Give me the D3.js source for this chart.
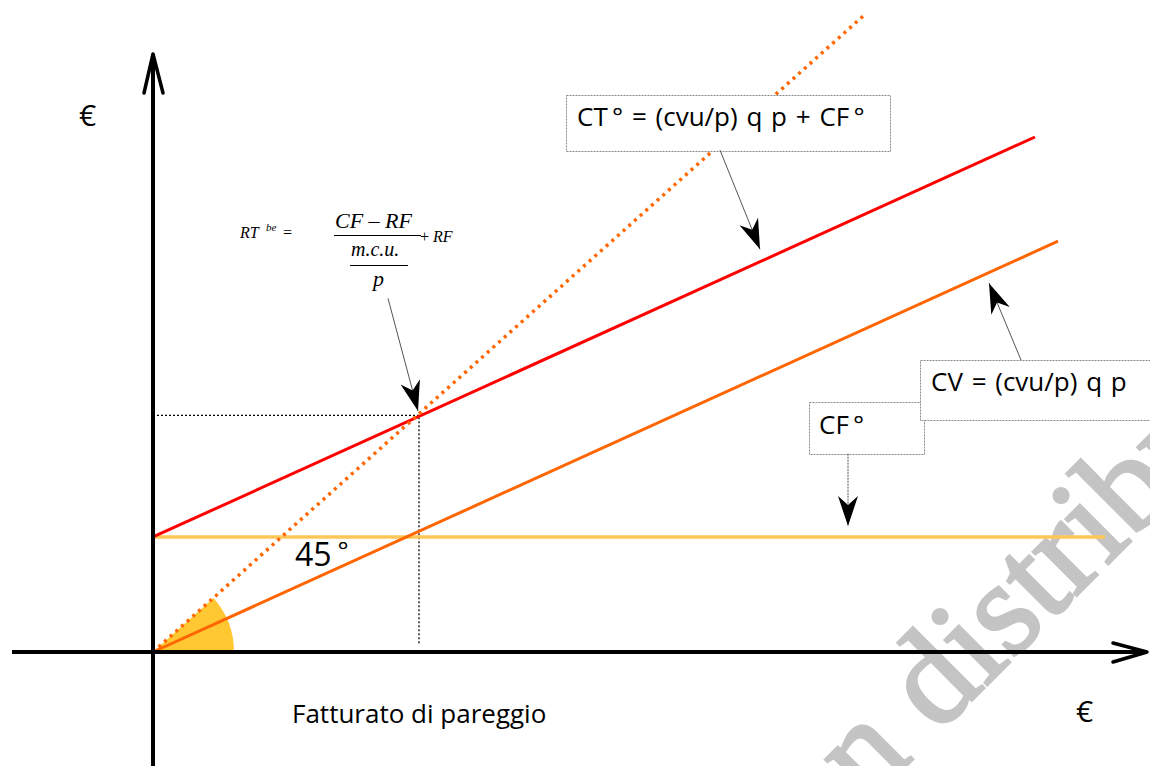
<!DOCTYPE html>
<html>
<head>
  <meta charset="utf-8">
  <title>Break-even</title>
  <script src="https://d3js.org/d3.v7.min.js"></script>
  <style>
    body { margin: 0; background: white; }
    svg { display: block; }
  </style>
</head>
<body>
<svg id="chart" width="1150" height="766"></svg>
<script>
  // values (x = revenue, y = euro, same units so 45 deg = y=x)
  const diagLine = [[0, 0], [712, 714]];          // revenue line, 45 deg
  const cfLine = [[0, 128.8], [952, 128.8]];      // fixed costs
  const cvLine = [[0, 0], [905, 460]];            // variable costs
  const ctLine = [[0, 128.8], [882, 576.7]];      // total costs
  const breakEven = [266, 265];

  const boxLabels = ["CT\u2009\u00B0 = (cvu/p) q p + CF\u2009\u00B0", "CV = (cvu/p) q p", "CF\u2009\u00B0"];
  const axisLabels = ["\u20AC", "\u20AC", "Fatturato di pareggio"];

  // annotation arrows, data units: [from, to]
  const arrows = [
    [[567, 562], [607, 451]],
    [[868, 327], [836, 413]],
    [[695, 222], [695, 141]],
    [[235, 396], [265, 270]]
  ];

  const svg = d3.select("#chart");

  const x = d3.scaleLinear().domain([0, 1000]).range([153, 1153]);
  const y = d3.scaleLinear().domain([0, 1000]).range([652, 652 - 893]);

  const line = d3.line().x(d => x(d[0])).y(d => y(d[1]));

  // watermark
  svg.append("text")
      .attr("transform", "translate(772,900) rotate(-45)")
      .attr("font-family", "Liberation Serif")
      .attr("font-size", 134)
      .attr("fill", "#c4c4c4")
      .attr("stroke", "#c4c4c4")
      .attr("stroke-width", 3)
      .text("non distribuire");

  // 45 deg wedge
  const wedgeAngle = Math.atan2(y(0) - y(100), x(100) - x(0));
  svg.append("path")
      .attr("transform", `translate(${x(0)},${y(0)})`)
      .attr("d", d3.arc()({innerRadius: 0, outerRadius: 81, startAngle: Math.PI / 2 - wedgeAngle, endAngle: Math.PI / 2}))
      .attr("fill", "#ffc832");

  // dotted guides to break-even point
  svg.append("path")
      .attr("d", line([[0, breakEven[1]], breakEven, [breakEven[0], 8]]))
      .attr("fill", "none")
      .attr("stroke", "#000")
      .attr("stroke-width", 1.3)
      .attr("stroke-dasharray", "2 2");

  // cost / revenue lines
  svg.append("path").attr("d", line(cfLine))
      .attr("stroke", "#ffc65a").attr("stroke-width", 3.5).attr("fill", "none");
  svg.append("path").attr("d", line(cvLine))
      .attr("stroke", "#ff6600").attr("stroke-width", 3).attr("fill", "none");
  svg.append("path").attr("d", line(ctLine))
      .attr("stroke", "#ff0000").attr("stroke-width", 3).attr("fill", "none");
  svg.append("path").attr("d", line(diagLine))
      .attr("stroke", "#ff6600").attr("stroke-width", 3.5).attr("fill", "none")
      .attr("stroke-dasharray", "3 4.6");

  // axes
  svg.append("line")
      .attr("x1", x(-141)).attr("y1", y(0)).attr("x2", 1147).attr("y2", y(0))
      .attr("stroke", "#000").attr("stroke-width", 4);
  svg.append("path")
      .attr("d", `M1113,643 L1147,${y(0)} L1113,662`)
      .attr("fill", "none").attr("stroke", "#000").attr("stroke-width", 3.5)
      .attr("stroke-linecap", "round").attr("stroke-linejoin", "round");
  svg.append("line")
      .attr("x1", x(0)).attr("y1", 766).attr("x2", x(0)).attr("y2", 54)
      .attr("stroke", "#000").attr("stroke-width", 4);
  svg.append("path")
      .attr("d", `M144,93 L${x(0)},54 L163,93`)
      .attr("fill", "none").attr("stroke", "#000").attr("stroke-width", 3.5)
      .attr("stroke-linecap", "round").attr("stroke-linejoin", "round");

  // label boxes
  const boxes = [
    {x: 566, y: 95, w: 324, h: 56, tx: 577, ty: 126, t: boxLabels[0]},
    {x: 809, y: 402, w: 115, h: 52, tx: 819, ty: 434, t: boxLabels[2]},
    {x: 920, y: 360, w: 240, h: 60, tx: 931, ty: 391, t: boxLabels[1]}
  ];
  boxes.forEach(b => {
    svg.append("rect")
        .attr("x", b.x + 0.5).attr("y", b.y + 0.5).attr("width", b.w).attr("height", b.h)
        .attr("fill", "white").attr("stroke", "#888").attr("stroke-width", 1)
        .attr("stroke-dasharray", "2 1");
    svg.append("text")
        .attr("x", b.tx).attr("y", b.ty)
        .attr("font-family", "Open Sans").attr("font-size", 26).attr("fill", "#000")
        .attr("word-spacing", 2)
        .text(b.t);
  });

  // annotation arrows
  arrows.forEach((a, i) => {
    const x1 = x(a[0][0]), y1 = y(a[0][1]), x2 = x(a[1][0]), y2 = y(a[1][1]);
    const ang = Math.atan2(y2 - y1, x2 - x1) * 180 / Math.PI;
    svg.append("line")
        .attr("x1", x1).attr("y1", y1).attr("x2", x2).attr("y2", y2)
        .attr("stroke", "#555").attr("stroke-width", 1)
        .attr("stroke-dasharray", i === 2 ? "2 1" : null);
    svg.append("path")
        .attr("transform", `translate(${x2},${y2}) rotate(${ang})`)
        .attr("d", "M0,0 L-30,-10 L-21,0 L-30,10 Z")
        .attr("fill", "#000");
  });

  // axis labels
  svg.append("text").attr("x", 79).attr("y", 126)
      .attr("font-family", "Open Sans").attr("font-size", 30).text(axisLabels[0]);
  svg.append("text").attr("x", 1076).attr("y", 722)
      .attr("font-family", "Open Sans").attr("font-size", 30).text(axisLabels[1]);
  svg.append("text").attr("x", 292).attr("y", 723)
      .attr("font-family", "Open Sans").attr("font-size", 26).text(axisLabels[2]);

  // 45 degrees
  const deg = svg.append("text").attr("x", 295).attr("y", 566)
      .attr("font-family", "Open Sans").attr("font-size", 32);
  deg.append("tspan").text("45");
  deg.append("tspan").attr("dx", 6).attr("dy", -6).attr("font-size", 26).text("\u00B0");

  // break-even formula
  const f = svg.append("g").attr("font-family", "Liberation Serif").attr("font-style", "italic");
  f.append("text").attr("x", 240).attr("y", 238).attr("font-size", 16).text("RT");
  f.append("text").attr("x", 266).attr("y", 231).attr("font-size", 11).text("be");
  f.append("text").attr("x", 283).attr("y", 238).attr("font-size", 16).attr("font-style", "normal").text("=");
  f.append("text").attr("x", 335).attr("y", 228).attr("font-size", 22).text("CF \u2013 RF");
  f.append("line").attr("x1", 334).attr("x2", 421).attr("y1", 235.5).attr("y2", 235.5)
      .attr("stroke", "#000").attr("stroke-width", 1);
  f.append("text").attr("x", 420).attr("y", 242).attr("font-size", 16)
      .html('<tspan font-style="normal">+</tspan> RF');
  f.append("text").attr("x", 351).attr("y", 256).attr("font-size", 20).text("m.c.u.");
  f.append("line").attr("x1", 350).attr("x2", 408).attr("y1", 265.5).attr("y2", 265.5)
      .attr("stroke", "#000").attr("stroke-width", 1);
  f.append("text").attr("x", 373).attr("y", 286).attr("font-size", 22).text("p");
</script>
</body>
</html>
